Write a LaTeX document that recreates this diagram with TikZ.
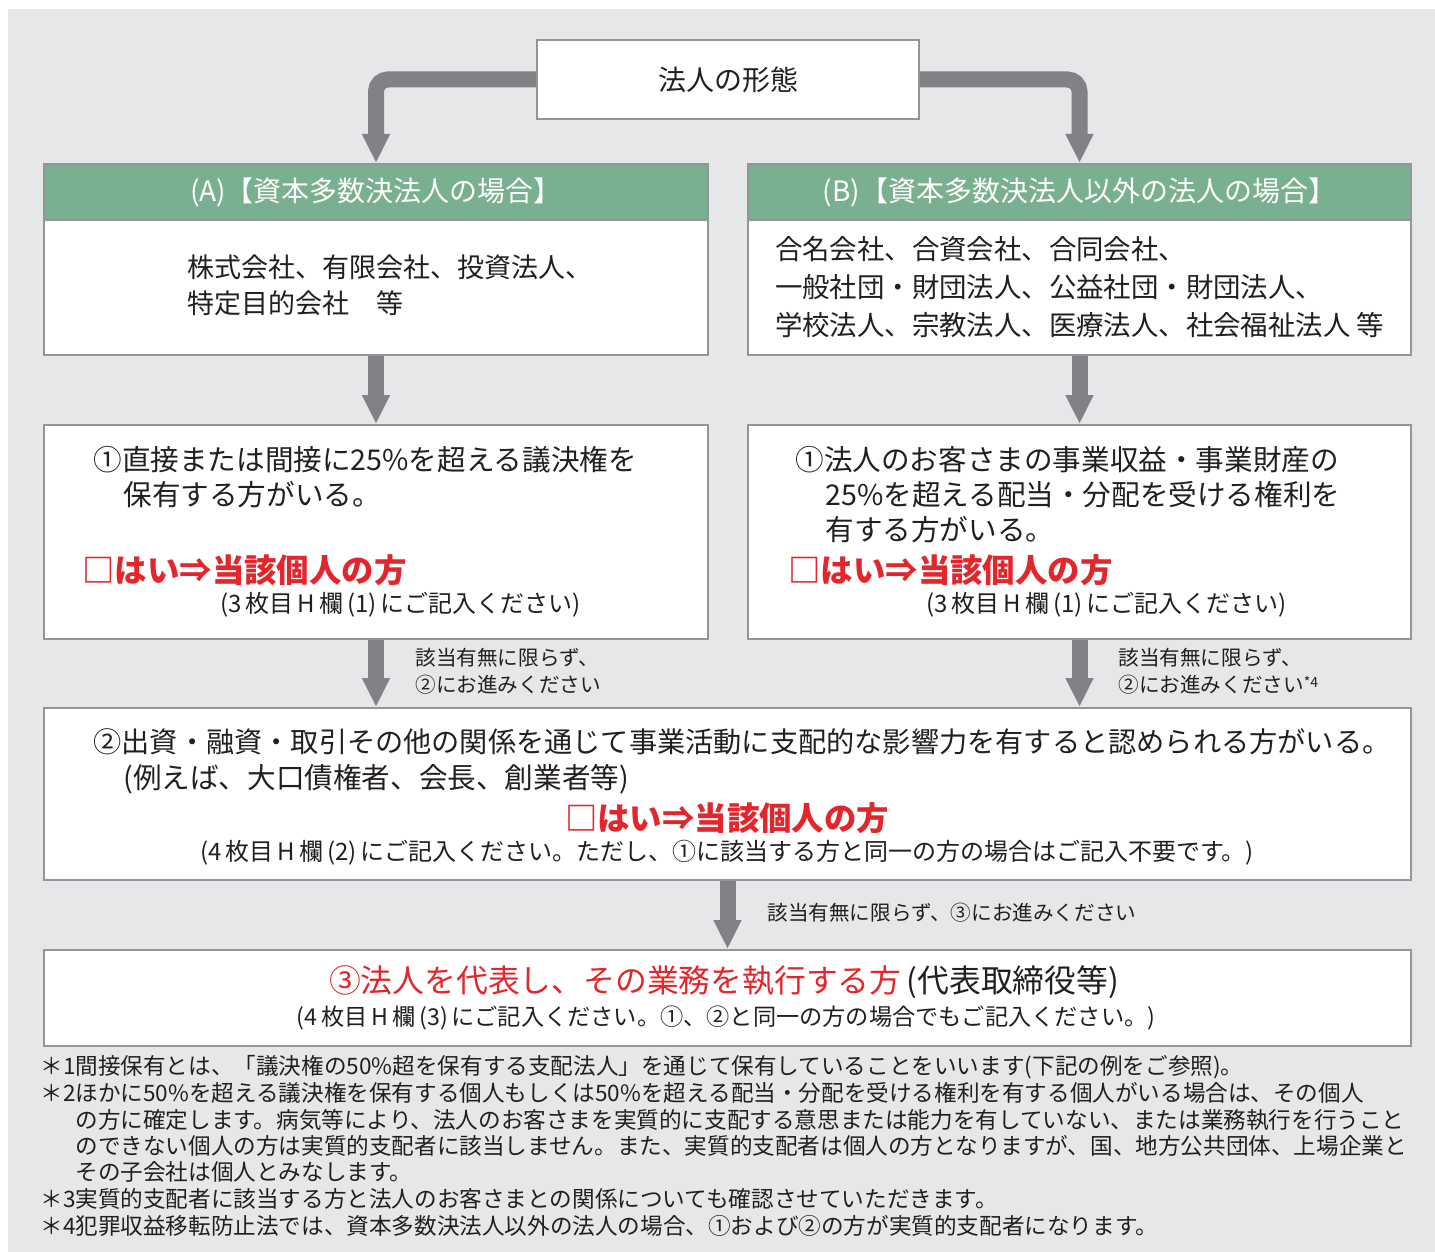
\documentclass[tikz,border=0pt]{standalone}
\usepackage{fontspec}
\setmainfont{Noto Sans CJK JP}
\usetikzlibrary{arrows.meta}
\definecolor{bggray}{HTML}{E6E7E8}
\definecolor{boxgray}{HTML}{939598}
\definecolor{arrgray}{HTML}{808285}
\definecolor{hdgreen}{HTML}{79B08F}
\definecolor{yesred}{HTML}{E2262B}
\definecolor{ink}{HTML}{231F20}

\begin{document}
\begin{tikzpicture}
[x=0.5pt, y=-0.5pt, text=ink,
  panel/.style={draw=boxgray, line width=1pt, fill=white, anchor=north west, inner sep=0pt},
  header/.style={panel, fill=hdgreen, text=white, minimum height=28pt,
    font=\fontsize{14}{16}\selectfont},
  qtext/.style={anchor=west, inner sep=0pt, font=\fontsize{14.3}{16}\selectfont},
  yes/.style={anchor=west, inner sep=0pt, text=yesred, font=\fontsize{16.2}{18}\selectfont\bfseries},
  note/.style={anchor=west, inner sep=0pt, font=\fontsize{12}{14}\selectfont},
  hint/.style={anchor=west, inner sep=0pt, align=left, font=\fontsize{10.3}{13.5}\selectfont},
  foot/.style={anchor=west, inner sep=0pt, font=\fontsize{11.3}{13}\selectfont},
  bigarrow/.style={draw=arrgray, line width=8pt, -{Triangle[width=13pt,length=14.5pt]}}]
  \useasboundingbox (0,0) rectangle (1435,1252);
  \fill[bggray] (8,9) rectangle (1435,1252);

  % top
  \node[panel, minimum width=191pt, minimum height=39.5pt,
    font=\fontsize{14}{16}\selectfont] (form) at (536,39) {法人の形態};

  % (A) and (B)
  \node[header, minimum width=332pt] (hdA) at (43,163) {(A)【資本多数決法人の場合】};
  \node[panel, minimum width=332pt, minimum height=67.5pt] (bodyA) at (43,219) {};
  \node[anchor=west, inner sep=0pt, align=left, font=\fontsize{13.5}{18}\selectfont]
    (bodyAtxt) at (187,285) {株式会社、有限会社、投資法人、\\特定目的会社　等};
  \node[header, minimum width=331.5pt] (hdB) at (747,163) {(B)【資本多数決法人以外の法人の場合】};
  \node[panel, minimum width=331.5pt, minimum height=67.5pt, align=left,
    font=\fontsize{13.7}{19}\selectfont] (bodyB) at (747,219)
    {合名会社、合資会社、合同会社、\\一般社団・財団法人、公益社団・財団法人、\\学校法人、宗教法人、医療法人、社会福祉法人 等};

  % question 1
  \node[panel, minimum width=332pt, minimum height=107pt] (qA) at (43,424) {};
  \node[qtext] (qA1) at (93,460) {①直接または間接に25\%を超える議決権を};
  \node[qtext] (qA2) at (123,495) {保有する方がいる。};
  \node[yes] (yesA) at (82,570) {□はい⇒当該個人の方};
  \node[note] (noteA) at (220,605) {(3\,枚目\,H\,欄\,(1)\,にご記入ください)};

  \node[panel, minimum width=331.5pt, minimum height=107pt] (qB) at (747,424) {};
  \node[qtext] (qB1) at (795,460) {①法人のお客さまの事業収益・事業財産の};
  \node[qtext] (qB2) at (825,495) {25\%を超える配当・分配を受ける権利を};
  \node[qtext] (qB3) at (825,530) {有する方がいる。};
  \node[yes] (yesB) at (788,570) {□はい⇒当該個人の方};
  \node[note] (noteB) at (926,605) {(3\,枚目\,H\,欄\,(1)\,にご記入ください)};

  % question 2
  \node[panel, minimum width=683.5pt, minimum height=86pt] (box2) at (43,707) {};
  \node[qtext, font=\fontsize{14.1}{16}\selectfont] (q21) at (93,742) {②出資・融資・取引その他の関係を通じて事業活動に支配的な影響力を有すると認められる方がいる。};
  \node[qtext] (q22) at (123,779) {(例えば、大口債権者、会長、創業者等)};
  \node[yes, anchor=center] (yes2) at (727,818) {□はい⇒当該個人の方};
  \node[note, anchor=center] (note2) at (727,853)
    {(4\,枚目\,H\,欄\,(2)\,にご記入ください。ただし、①に該当する方と同一の方の場合はご記入不要です。)};

  % question 3
  \node[panel, minimum width=683.5pt, minimum height=48pt] (box3) at (43,949) {};
  \node[qtext, anchor=center, font=\fontsize{15.9}{18}\selectfont] (q31) at (724,982)
    {\textcolor{yesred}{③法人を代表し、その業務を執行する方}\,(代表取締役等)};
  \node[note, anchor=center, font=\fontsize{11.6}{14}\selectfont] (note3) at (726,1018)
    {(4\,枚目\,H\,欄\,(3)\,にご記入ください。①、②と同一の方の場合でもご記入ください。)};

  % arrows
  \draw[bigarrow, rounded corners=6pt] (form.west) -| (hdA.north);
  \draw[bigarrow, rounded corners=6pt] (form.east) -| (hdB.north);
  \draw[bigarrow] (bodyA.south) -- (qA.north);
  \draw[bigarrow] (bodyB.south) -- (qB.north);
  \draw[bigarrow] (qA.south) -- (qA.south |- box2.north);
  \draw[bigarrow] (qB.south) -- (qB.south |- box2.north);
  \draw[bigarrow] (box2.south) -- (box3.north);

  \node[hint] (hintA) at (415,671.5) {該当有無に限らず、\\②にお進みください};
  \node[hint] (hintB) at (1118,671.5)
    {該当有無に限らず、\\②にお進みください\raisebox{0.5ex}{\fontsize{7}{8}\selectfont *4}};
  \node[hint] (hint3) at (767,913) {該当有無に限らず、③にお進みください};

  % notes
  \node[foot] (fn1) at (40,1067) {＊1間接保有とは、「議決権の50\%超を保有する支配法人」を通じて保有していることをいいます(下記の例をご参照)。};
  \node[foot] (fn2) at (40,1093) {＊2ほかに50\%を超える議決権を保有する個人もしくは50\%を超える配当・分配を受ける権利を有する個人がいる場合は、その個人};
  \node[foot] (fn2b) at (75,1120) {の方に確定します。病気等により、法人のお客さまを実質的に支配する意思または能力を有していない、または業務執行を行うこと};
  \node[foot] (fn2c) at (75,1146) {のできない個人の方は実質的支配者に該当しません。また、実質的支配者は個人の方となりますが、国、地方公共団体、上場企業と};
  \node[foot] (fn2d) at (75,1172) {その子会社は個人とみなします。};
  \node[foot] (fn3) at (40,1199) {＊3実質的支配者に該当する方と法人のお客さまとの関係についても確認させていただきます。};
  \node[foot] (fn4) at (40,1226) {＊4犯罪収益移転防止法では、資本多数決法人以外の法人の場合、①および②の方が実質的支配者になります。};
\end{tikzpicture}
\end{document}
